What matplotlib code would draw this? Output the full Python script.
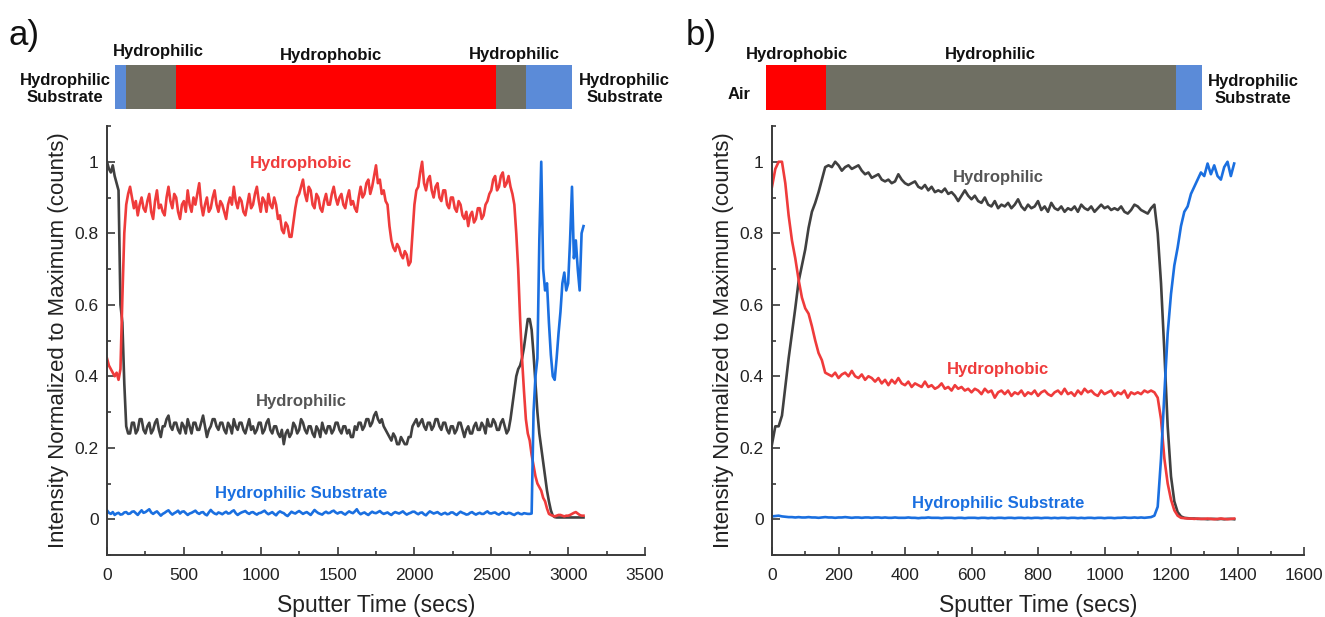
import numpy as np
import matplotlib.pyplot as plt
from matplotlib.ticker import MultipleLocator, FuncFormatter

plt.rcParams['font.family'] = ['Liberation Sans', 'DejaVu Sans']

# sputter time grids (secs)
time_a = np.arange(0, 3100.1, 12.5)
time_b = np.arange(0, 1391, 10)

# panel a, normalized intensity
hydrophobic_a = [
    0.45, 0.43, 0.42, 0.41, 0.40, 0.41, 0.39, 0.42, 0.62, 0.80, 0.88, 0.91, 0.93, 0.90, 0.87, 0.89, 0.85, 0.88, 0.90, 0.87,
    0.86, 0.89, 0.91, 0.86, 0.84, 0.89, 0.92, 0.87, 0.88, 0.86, 0.85, 0.90, 0.93, 0.89, 0.87, 0.91, 0.90, 0.86, 0.84, 0.88,
    0.89, 0.86, 0.92, 0.88, 0.86, 0.90, 0.88, 0.91, 0.94, 0.88, 0.85, 0.88, 0.90, 0.86, 0.87, 0.90, 0.92, 0.88, 0.86, 0.89,
    0.88, 0.86, 0.84, 0.88, 0.90, 0.88, 0.93, 0.89, 0.87, 0.90, 0.89, 0.86, 0.85, 0.88, 0.91, 0.87, 0.88, 0.91, 0.93, 0.89,
    0.86, 0.90, 0.89, 0.86, 0.91, 0.88, 0.87, 0.90, 0.88, 0.84, 0.85, 0.81, 0.80, 0.83, 0.82, 0.79, 0.79, 0.83, 0.87, 0.90,
    0.91, 0.93, 0.95, 0.91, 0.89, 0.93, 0.92, 0.88, 0.87, 0.91, 0.90, 0.87, 0.86, 0.89, 0.91, 0.88, 0.88, 0.91, 0.93, 0.90,
    0.88, 0.90, 0.91, 0.88, 0.87, 0.90, 0.92, 0.88, 0.89, 0.87, 0.86, 0.90, 0.93, 0.90, 0.91, 0.94, 0.95, 0.91, 0.93, 0.96,
    0.99, 0.94, 0.95, 0.91, 0.92, 0.89, 0.88, 0.82, 0.78, 0.76, 0.75, 0.77, 0.76, 0.74, 0.73, 0.75, 0.74, 0.71, 0.72, 0.80,
    0.88, 0.92, 0.93, 0.97, 1.00, 0.94, 0.92, 0.95, 0.96, 0.92, 0.90, 0.93, 0.94, 0.90, 0.89, 0.92, 0.92, 0.88, 0.87, 0.90,
    0.90, 0.87, 0.86, 0.89, 0.88, 0.85, 0.84, 0.86, 0.82, 0.85, 0.86, 0.83, 0.84, 0.87, 0.87, 0.84, 0.85, 0.88, 0.89, 0.91,
    0.92, 0.95, 0.96, 0.92, 0.93, 0.96, 0.97, 0.93, 0.94, 0.96, 0.93, 0.91, 0.88, 0.80, 0.70, 0.56, 0.45, 0.36, 0.28, 0.24,
    0.22, 0.18, 0.15, 0.12, 0.10, 0.09, 0.08, 0.06, 0.05, 0.03, 0.015, 0.012, 0.010, 0.008, 0.010, 0.012, 0.012, 0.010, 0.008, 0.010,
    0.010, 0.012, 0.015, 0.018, 0.020, 0.016, 0.012, 0.010, 0.010,
]
hydrophilic_a = [
    1.00, 0.98, 0.97, 0.99, 0.96, 0.94, 0.92, 0.60, 0.55, 0.38, 0.26, 0.24, 0.24, 0.27, 0.27, 0.24, 0.25, 0.28, 0.28, 0.25,
    0.24, 0.26, 0.27, 0.24, 0.25, 0.27, 0.28, 0.25, 0.23, 0.26, 0.26, 0.28, 0.29, 0.26, 0.25, 0.27, 0.27, 0.25, 0.24, 0.27,
    0.26, 0.24, 0.28, 0.26, 0.24, 0.27, 0.27, 0.25, 0.25, 0.27, 0.29, 0.26, 0.23, 0.25, 0.26, 0.28, 0.28, 0.26, 0.25, 0.27,
    0.27, 0.25, 0.24, 0.27, 0.26, 0.24, 0.28, 0.26, 0.25, 0.27, 0.27, 0.25, 0.24, 0.26, 0.28, 0.25, 0.26, 0.24, 0.25, 0.27,
    0.27, 0.24, 0.25, 0.27, 0.28, 0.25, 0.24, 0.26, 0.26, 0.24, 0.23, 0.25, 0.21, 0.24, 0.25, 0.23, 0.24, 0.27, 0.26, 0.24,
    0.25, 0.28, 0.27, 0.25, 0.24, 0.26, 0.26, 0.24, 0.23, 0.26, 0.25, 0.23, 0.27, 0.25, 0.24, 0.26, 0.26, 0.24, 0.25, 0.27,
    0.27, 0.25, 0.24, 0.26, 0.26, 0.24, 0.25, 0.23, 0.23, 0.26, 0.25, 0.27, 0.27, 0.25, 0.26, 0.28, 0.28, 0.26, 0.27, 0.29,
    0.30, 0.28, 0.27, 0.28, 0.26, 0.25, 0.24, 0.23, 0.22, 0.24, 0.23, 0.21, 0.21, 0.23, 0.22, 0.21, 0.21, 0.23, 0.23, 0.26,
    0.27, 0.28, 0.26, 0.27, 0.28, 0.26, 0.25, 0.27, 0.27, 0.25, 0.26, 0.28, 0.28, 0.26, 0.25, 0.27, 0.27, 0.25, 0.24, 0.26,
    0.26, 0.24, 0.25, 0.27, 0.27, 0.25, 0.23, 0.25, 0.26, 0.24, 0.24, 0.26, 0.27, 0.25, 0.25, 0.27, 0.26, 0.24, 0.28, 0.26,
    0.26, 0.28, 0.27, 0.25, 0.25, 0.27, 0.28, 0.26, 0.24, 0.25, 0.28, 0.32, 0.36, 0.40, 0.42, 0.43, 0.45, 0.48, 0.52, 0.56,
    0.56, 0.53, 0.46, 0.38, 0.30, 0.24, 0.20, 0.16, 0.12, 0.08, 0.05, 0.025, 0.010, 0.006, 0.005, 0.005, 0.005, 0.005, 0.005, 0.005,
    0.005, 0.005, 0.005, 0.005, 0.005, 0.005, 0.005, 0.005, 0.005,
]
substrate_a = [
    0.025, 0.018, 0.015, 0.020, 0.012, 0.016, 0.018, 0.013, 0.014, 0.019, 0.020, 0.015, 0.016, 0.021, 0.022, 0.017, 0.012, 0.019, 0.025, 0.018,
    0.020, 0.024, 0.028, 0.019, 0.015, 0.019, 0.022, 0.016, 0.010, 0.015, 0.018, 0.022, 0.025, 0.018, 0.013, 0.017, 0.020, 0.024, 0.016, 0.021,
    0.022, 0.017, 0.012, 0.016, 0.018, 0.021, 0.024, 0.018, 0.015, 0.019, 0.020, 0.014, 0.011, 0.019, 0.026, 0.020, 0.016, 0.014, 0.019, 0.017,
    0.014, 0.018, 0.021, 0.016, 0.017, 0.022, 0.025, 0.017, 0.012, 0.016, 0.019, 0.021, 0.023, 0.018, 0.015, 0.019, 0.020, 0.016, 0.013, 0.017,
    0.018, 0.021, 0.024, 0.018, 0.014, 0.017, 0.020, 0.015, 0.011, 0.018, 0.022, 0.019, 0.017, 0.012, 0.009, 0.015, 0.021, 0.018, 0.016, 0.020,
    0.023, 0.019, 0.015, 0.018, 0.020, 0.016, 0.012, 0.019, 0.026, 0.021, 0.017, 0.015, 0.013, 0.018, 0.021, 0.017, 0.018, 0.022, 0.024, 0.019,
    0.016, 0.019, 0.020, 0.016, 0.013, 0.018, 0.022, 0.019, 0.017, 0.022, 0.028, 0.019, 0.014, 0.017, 0.019, 0.015, 0.012, 0.017, 0.021, 0.018,
    0.017, 0.020, 0.023, 0.018, 0.015, 0.017, 0.019, 0.015, 0.012, 0.017, 0.020, 0.018, 0.016, 0.019, 0.022, 0.017, 0.013, 0.016, 0.018, 0.021,
    0.021, 0.017, 0.014, 0.018, 0.019, 0.014, 0.011, 0.017, 0.022, 0.019, 0.016, 0.018, 0.020, 0.016, 0.013, 0.016, 0.018, 0.014, 0.015, 0.019,
    0.019, 0.015, 0.012, 0.017, 0.021, 0.018, 0.016, 0.013, 0.014, 0.018, 0.020, 0.016, 0.013, 0.016, 0.018, 0.015, 0.015, 0.019, 0.022, 0.017,
    0.016, 0.018, 0.019, 0.015, 0.013, 0.017, 0.020, 0.016, 0.015, 0.018, 0.017, 0.014, 0.012, 0.016, 0.018, 0.015, 0.014, 0.017, 0.016, 0.015,
    0.015, 0.016, 0.30, 0.40, 0.45, 0.78, 1.00, 0.70, 0.64, 0.66, 0.55, 0.46, 0.40, 0.39, 0.45, 0.52, 0.58, 0.66, 0.69, 0.64,
    0.66, 0.78, 0.93, 0.73, 0.78, 0.70, 0.64, 0.80, 0.82,
]

# panel b, normalized intensity
hydrophobic_b = [
    0.93, 0.98, 1.00, 1.00, 0.94, 0.85, 0.78, 0.73, 0.67, 0.62,
    0.59, 0.575, 0.54, 0.50, 0.465, 0.445, 0.41, 0.405, 0.40, 0.41,
    0.395, 0.405, 0.41, 0.40, 0.415, 0.40, 0.395, 0.405, 0.39, 0.40,
    0.395, 0.385, 0.395, 0.38, 0.39, 0.375, 0.39, 0.38, 0.395, 0.38,
    0.375, 0.385, 0.37, 0.38, 0.375, 0.37, 0.385, 0.37, 0.375, 0.365,
    0.37, 0.38, 0.365, 0.37, 0.36, 0.375, 0.365, 0.37, 0.36, 0.365,
    0.355, 0.365, 0.36, 0.35, 0.365, 0.355, 0.36, 0.34, 0.355, 0.36,
    0.35, 0.36, 0.345, 0.355, 0.35, 0.36, 0.345, 0.355, 0.35, 0.36,
    0.345, 0.355, 0.36, 0.35, 0.345, 0.355, 0.36, 0.35, 0.365, 0.35,
    0.355, 0.345, 0.36, 0.35, 0.365, 0.355, 0.36, 0.35, 0.345, 0.36,
    0.35, 0.355, 0.36, 0.345, 0.355, 0.35, 0.36, 0.34, 0.355, 0.35,
    0.355, 0.35, 0.36, 0.355, 0.36, 0.355, 0.34, 0.28, 0.17, 0.10,
    0.055, 0.025, 0.010, 0.004, 0.003, 0.002, 0.002, 0.001, 0.002, 0.001,
    0.001, 0.002, 0.001, 0.000, 0.001, 0.002, 0.001, 0.000, 0.001, 0.002,
]
hydrophilic_b = [
    0.21, 0.26, 0.26, 0.29, 0.37, 0.45, 0.52, 0.59, 0.665, 0.71,
    0.755, 0.815, 0.86, 0.885, 0.915, 0.95, 0.985, 0.99, 0.985, 1.00,
    0.99, 0.975, 0.985, 0.99, 0.98, 0.985, 0.99, 0.975, 0.965, 0.97,
    0.955, 0.96, 0.965, 0.95, 0.945, 0.95, 0.94, 0.945, 0.965, 0.95,
    0.94, 0.935, 0.94, 0.945, 0.93, 0.925, 0.935, 0.92, 0.93, 0.915,
    0.92, 0.915, 0.925, 0.91, 0.915, 0.905, 0.89, 0.905, 0.92, 0.905,
    0.895, 0.905, 0.89, 0.885, 0.90, 0.88, 0.875, 0.89, 0.87, 0.88,
    0.875, 0.885, 0.87, 0.88, 0.895, 0.875, 0.865, 0.88, 0.87, 0.875,
    0.89, 0.865, 0.875, 0.86, 0.885, 0.87, 0.865, 0.875, 0.86, 0.87,
    0.865, 0.875, 0.86, 0.88, 0.87, 0.865, 0.875, 0.86, 0.87, 0.88,
    0.87, 0.875, 0.865, 0.87, 0.865, 0.875, 0.86, 0.855, 0.865, 0.88,
    0.875, 0.865, 0.86, 0.855, 0.87, 0.88, 0.80, 0.66, 0.47, 0.26,
    0.12, 0.05, 0.02, 0.008, 0.004, 0.003, 0.002, 0.002, 0.001, 0.001,
    0.001, 0.000, 0.001, 0.001, 0.000, 0.001, 0.000, 0.001, 0.001, 0.000,
]
substrate_b = [
    0.008, 0.009, 0.010, 0.008, 0.007, 0.006, 0.006, 0.005, 0.006, 0.005,
    0.005, 0.006, 0.005, 0.005, 0.004, 0.005, 0.006, 0.005, 0.005, 0.004,
    0.005, 0.005, 0.006, 0.005, 0.004, 0.005, 0.005, 0.004, 0.005, 0.005,
    0.004, 0.005, 0.005, 0.004, 0.005, 0.004, 0.004, 0.005, 0.004, 0.004,
    0.004, 0.005, 0.004, 0.004, 0.003, 0.004, 0.004, 0.005, 0.004, 0.004,
    0.004, 0.003, 0.004, 0.004, 0.004, 0.003, 0.004, 0.004, 0.003, 0.004,
    0.004, 0.004, 0.003, 0.004, 0.004, 0.003, 0.004, 0.003, 0.004, 0.004,
    0.003, 0.004, 0.004, 0.003, 0.004, 0.004, 0.003, 0.004, 0.003, 0.004,
    0.004, 0.003, 0.004, 0.004, 0.003, 0.004, 0.003, 0.004, 0.004, 0.003,
    0.004, 0.004, 0.003, 0.004, 0.003, 0.004, 0.004, 0.003, 0.004, 0.004,
    0.003, 0.004, 0.004, 0.003, 0.004, 0.004, 0.005, 0.004, 0.004, 0.005,
    0.004, 0.005, 0.004, 0.005, 0.006, 0.010, 0.035, 0.170, 0.350, 0.520,
    0.630, 0.710, 0.760, 0.820, 0.860, 0.875, 0.910, 0.930, 0.950, 0.970,
    0.960, 0.995, 0.965, 0.990, 0.960, 0.950, 0.985, 1.000, 0.960, 0.995,
]

# layer stack schematics (edges in sputter time)
layers_a_edges = [49, 126, 447, 2528, 2724, 3027]
layers_a = ['substrate', 'philic', 'phobic', 'philic', 'substrate']
layers_b_edges = [-19, 161, 1215, 1293]
layers_b = ['phobic', 'philic', 'substrate']

line_colors = {'phobic': '#ef3b3b', 'philic': '#404040', 'substrate': '#1a6fe0'}
text_colors = {'phobic': '#ef3b3b', 'philic': '#555555', 'substrate': '#1a6fe0'}
layer_colors = {'phobic': '#ff0000', 'philic': '#6f6f63', 'substrate': '#5b8bd8'}

W, H = 1325, 617
fig = plt.figure(figsize=(W / 100, H / 100), dpi=100)
ax_a = fig.add_axes([107 / W, 62 / H, 538 / W, 429 / H])
ax_b = fig.add_axes([772 / W, 62 / H, 532 / W, 429 / H])
bar_a = fig.add_axes([107 / W, (H - 109) / H, 538 / W, 44 / H])
bar_b = fig.add_axes([772 / W, (H - 110) / H, 532 / W, 45 / H])


def style_axes(ax, xmax, major, minor):
    ax.set_xlim(0, xmax)
    ax.set_ylim(-0.1, 1.1)
    ax.xaxis.set_major_locator(MultipleLocator(major))
    ax.xaxis.set_minor_locator(MultipleLocator(minor))
    ax.yaxis.set_major_locator(MultipleLocator(0.2))
    ax.yaxis.set_minor_locator(MultipleLocator(0.1))
    ax.yaxis.set_major_formatter(FuncFormatter(lambda v, p: '%g' % round(v, 2)))
    for s in ['top', 'right']:
        ax.spines[s].set_visible(False)
    for s in ['left', 'bottom']:
        ax.spines[s].set_color('#3a3a3a')
        ax.spines[s].set_linewidth(1.4)
    ax.tick_params(which='both', direction='in', colors='#3a3a3a',
                   labelcolor='#222222', labelsize=12.5, width=1.2)
    ax.tick_params(which='major', length=5.5)
    ax.tick_params(which='minor', length=3)
    ax.tick_params(axis='x', which='major', pad=9)
    ax.tick_params(axis='y', which='major', pad=6)
    ax.set_xlabel('Sputter Time (secs)', fontsize=16.5, color='#222222', labelpad=8)
    ax.set_ylabel('Intensity Normalized to Maximum (counts)', fontsize=16,
                  color='#222222', labelpad=4)


def draw_layers(bax, edges, kinds, xmax):
    bax.set_xlim(0, xmax)
    bax.set_ylim(0, 1)
    bax.axis('off')
    for left, right, k in zip(edges[:-1], edges[1:], kinds):
        bars = bax.barh(0.5, right - left, left=left, height=1,
                        color=layer_colors[k], linewidth=0)
        for b in bars:
            b.set_clip_on(False)


lw = 1.9

# panel a
ax_a.plot(time_a, hydrophilic_a, color=line_colors['philic'], lw=lw)
ax_a.plot(time_a, hydrophobic_a, color=line_colors['phobic'], lw=lw)
ax_a.plot(time_a, substrate_a, color=line_colors['substrate'], lw=lw)
style_axes(ax_a, 3500, 500, 250)
lab = dict(ha='center', va='center', fontsize=12, fontweight='bold')
ax_a.text(1262, 0.995, 'Hydrophobic', color=text_colors['phobic'], **lab)
ax_a.text(1262, 0.33, 'Hydrophilic', color=text_colors['philic'], **lab)
ax_a.text(1262, 0.073, 'Hydrophilic Substrate', color=text_colors['substrate'], **lab)

draw_layers(bar_a, layers_a_edges, layers_a, 3500)
blab = dict(ha='center', va='center', fontsize=12, fontweight='bold',
            color='#111111', clip_on=False)
bar_a.text(333, 1.30, 'Hydrophilic', **blab)
bar_a.text(1455, 1.22, 'Hydrophobic', **blab)
bar_a.text(2653, 1.24, 'Hydrophilic', **blab)
bar_a.text(-273, 0.45, 'Hydrophilic\nSubstrate', **blab)
bar_a.text(3367, 0.45, 'Hydrophilic\nSubstrate', **blab)

# panel b
ax_b.plot(time_b, hydrophilic_b, color=line_colors['philic'], lw=lw)
ax_b.plot(time_b, hydrophobic_b, color=line_colors['phobic'], lw=lw)
ax_b.plot(time_b, substrate_b, color=line_colors['substrate'], lw=lw)
style_axes(ax_b, 1600, 200, 100)
ax_b.text(680, 0.957, 'Hydrophilic', color=text_colors['philic'], **lab)
ax_b.text(680, 0.42, 'Hydrophobic', color=text_colors['phobic'], **lab)
ax_b.text(680, 0.045, 'Hydrophilic Substrate', color=text_colors['substrate'], **lab)

draw_layers(bar_b, layers_b_edges, layers_b, 1600)
bar_b.text(75, 1.23, 'Hydrophobic', **blab)
bar_b.text(656, 1.23, 'Hydrophilic', **blab)
bar_b.text(-99, 0.35, 'Air', **blab)
bar_b.text(1447, 0.45, 'Hydrophilic\nSubstrate', **blab)

fig.text(8 / W, 1 - 35 / H, 'a)', fontsize=25, va='center', ha='left', color='#111111')
fig.text(686 / W, 1 - 35 / H, 'b)', fontsize=25, va='center', ha='left', color='#111111')

fig.savefig('out.png', dpi=100)
